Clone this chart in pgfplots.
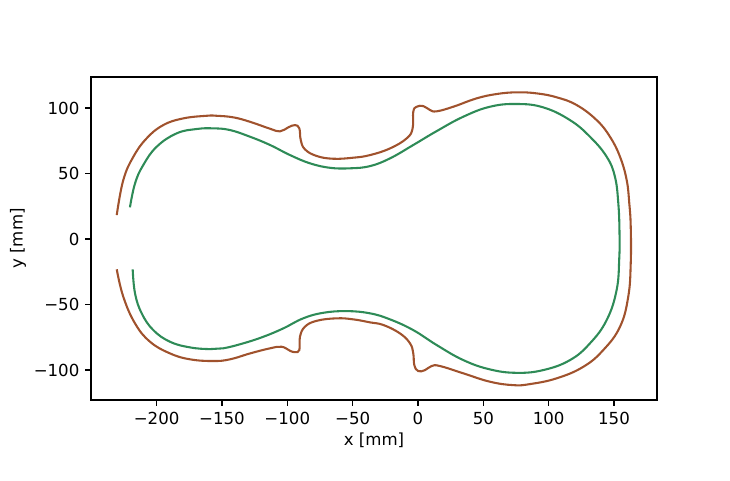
\documentclass[12pt,border=0pt]{standalone}
\usepackage{fontspec}
\setmainfont{DejaVu Sans}
\usepackage{pgfplots}
\pgfplotsset{compat=1.18}
\definecolor{outerc}{RGB}{160,82,45}
\definecolor{innerc}{RGB}{46,139,87}
\begin{document}
\begin{tikzpicture}
\begin{axis}[
    scale only axis,
    width=407.5bp, height=232.6bp,
    xmin=-250.2, xmax=182.9,
    ymin=-122.9, ymax=123.7,
    axis line style={line width=1pt},
    tick style={line width=1pt, black},
    tick align=outside,
    major tick length=4.2bp,
    xtick pos=bottom, ytick pos=left,
    xtick={-200,-150,-100,-50,0,50,100,150},
    xticklabels={−200,−150,−100,−50,0,50,100,150},
    ytick={-100,-50,0,50,100},
    yticklabels={−100,−50,0,50,100},
    /pgf/number format/assume math mode=true,
    xlabel={x [mm]}, ylabel={y [mm]},
    xlabel style={at={(axis description cs:0.5,-0.124)}, anchor=center},
    ylabel style={at={(axis description cs:-0.129,0.5)}, anchor=center},
]
% outer outline
\addplot[color=outerc, line width=1.5pt, smooth, tension=0.7] coordinates {
(-230.5,18.3)(-225.5,45)(-217.8,62.8)(-207.6,76.9)(-194.9,87)(-179.6,92.1)
(-161.7,94.1)(-154,94.1)(-141.3,92.9)(-128.5,89.5)(-113.2,84.2)(-105.6,82.2)
(-99.2,85.3)(-94.1,87)(-90.8,84.5)(-89.7,75.6)(-86.5,68.5)(-77.5,63.4)
(-64.8,61.3)(-49.5,62.1)(-36.7,64.1)(-21.4,69.2)(-8.6,76.9)(-4.1,84.5)
(-3.6,97.2)(-1,101)(4.1,101.5)(9.2,98.5)(14.3,97.5)(27,101)(44.9,107.4)
(60.2,110.7)(75.5,112)(90.8,111.2)(106.1,108.2)(121.4,102.3)(136.7,90.8)
(146.9,78.1)(154.6,62.8)(159.7,45)(161.7,27.2)(162.8,9.4)
(162.8,-18.5)(160.9,-44)(154.6,-66.9)(141.8,-84.7)(126.5,-97.5)(106.1,-106.3)
(85.7,-110.7)(72.9,-111.5)(55.1,-108.9)(34.7,-102.5)(16.8,-96.9)(10.5,-96.9)
(5.4,-100)(0.2,-100.8)(-2.8,-96.2)(-3.6,-87.3)(-6.1,-79.6)(-13.8,-72)
(-26.5,-65.6)(-36.7,-63.6)(-49.5,-61.3)(-62.2,-60.5)(-77.5,-62.4)(-86.5,-66.9)
(-90.3,-74.6)(-90.8,-84.7)(-94.1,-86.3)(-97.9,-85.3)(-104.3,-82.2)(-113.2,-83.4)
(-128.5,-87.3)(-143.8,-91.8)(-156.6,-93.1)(-174.4,-91.8)(-189.7,-87.3)
(-205,-78.4)(-216.5,-64.4)(-225.5,-44)(-230.5,-23.1)
};
% inner outline
\addplot[color=innerc, line width=1.5pt, smooth, tension=0.7] coordinates {
(-220.4,24.2)(-216.5,42.5)(-210.2,56.5)(-199.9,70.5)(-184.6,80.7)(-169.3,84)
(-156.6,84.5)(-143.8,83.2)(-128.5,78.1)(-113.2,71.8)(-97.9,64.1)(-82.6,57.8)
(-67.3,54.4)(-52,54)(-36.7,55.7)(-21.4,61.6)(-3.6,71.8)(14.3,82.4)(34.7,93.4)
(55.1,101)(75.5,103.1)(95.9,100.5)(116.3,90.8)(131.6,78.1)(144.4,62.8)
(150.7,47.6)(153.3,27.2)(154.2,5)(154,-15)(152,-38.9)
(144.4,-61.8)(131.6,-79.6)(116.3,-92.4)(95.9,-100)(75.5,-102.1)(55.1,-99.5)
(34.7,-92.4)(14.3,-80.9)(-3.6,-69.5)(-21.4,-61.3)(-36.7,-56.7)(-54.6,-55)
(-72.5,-56.3)(-87.8,-60.5)(-103.1,-68.2)(-118.4,-74.6)(-133.7,-79.6)
(-149,-83.4)(-159.1,-84)(-174.4,-82.7)(-189.7,-78.4)(-202.5,-69.5)
(-211.4,-56.7)(-216.5,-41.5)(-218.3,-23.1)
};
\end{axis}
\path ([xshift=-65.52bp,yshift=-57.6bp]current axis.south west)
  rectangle ([xshift=52.56bp,yshift=55.44bp]current axis.north east);
\end{tikzpicture}
\end{document}
